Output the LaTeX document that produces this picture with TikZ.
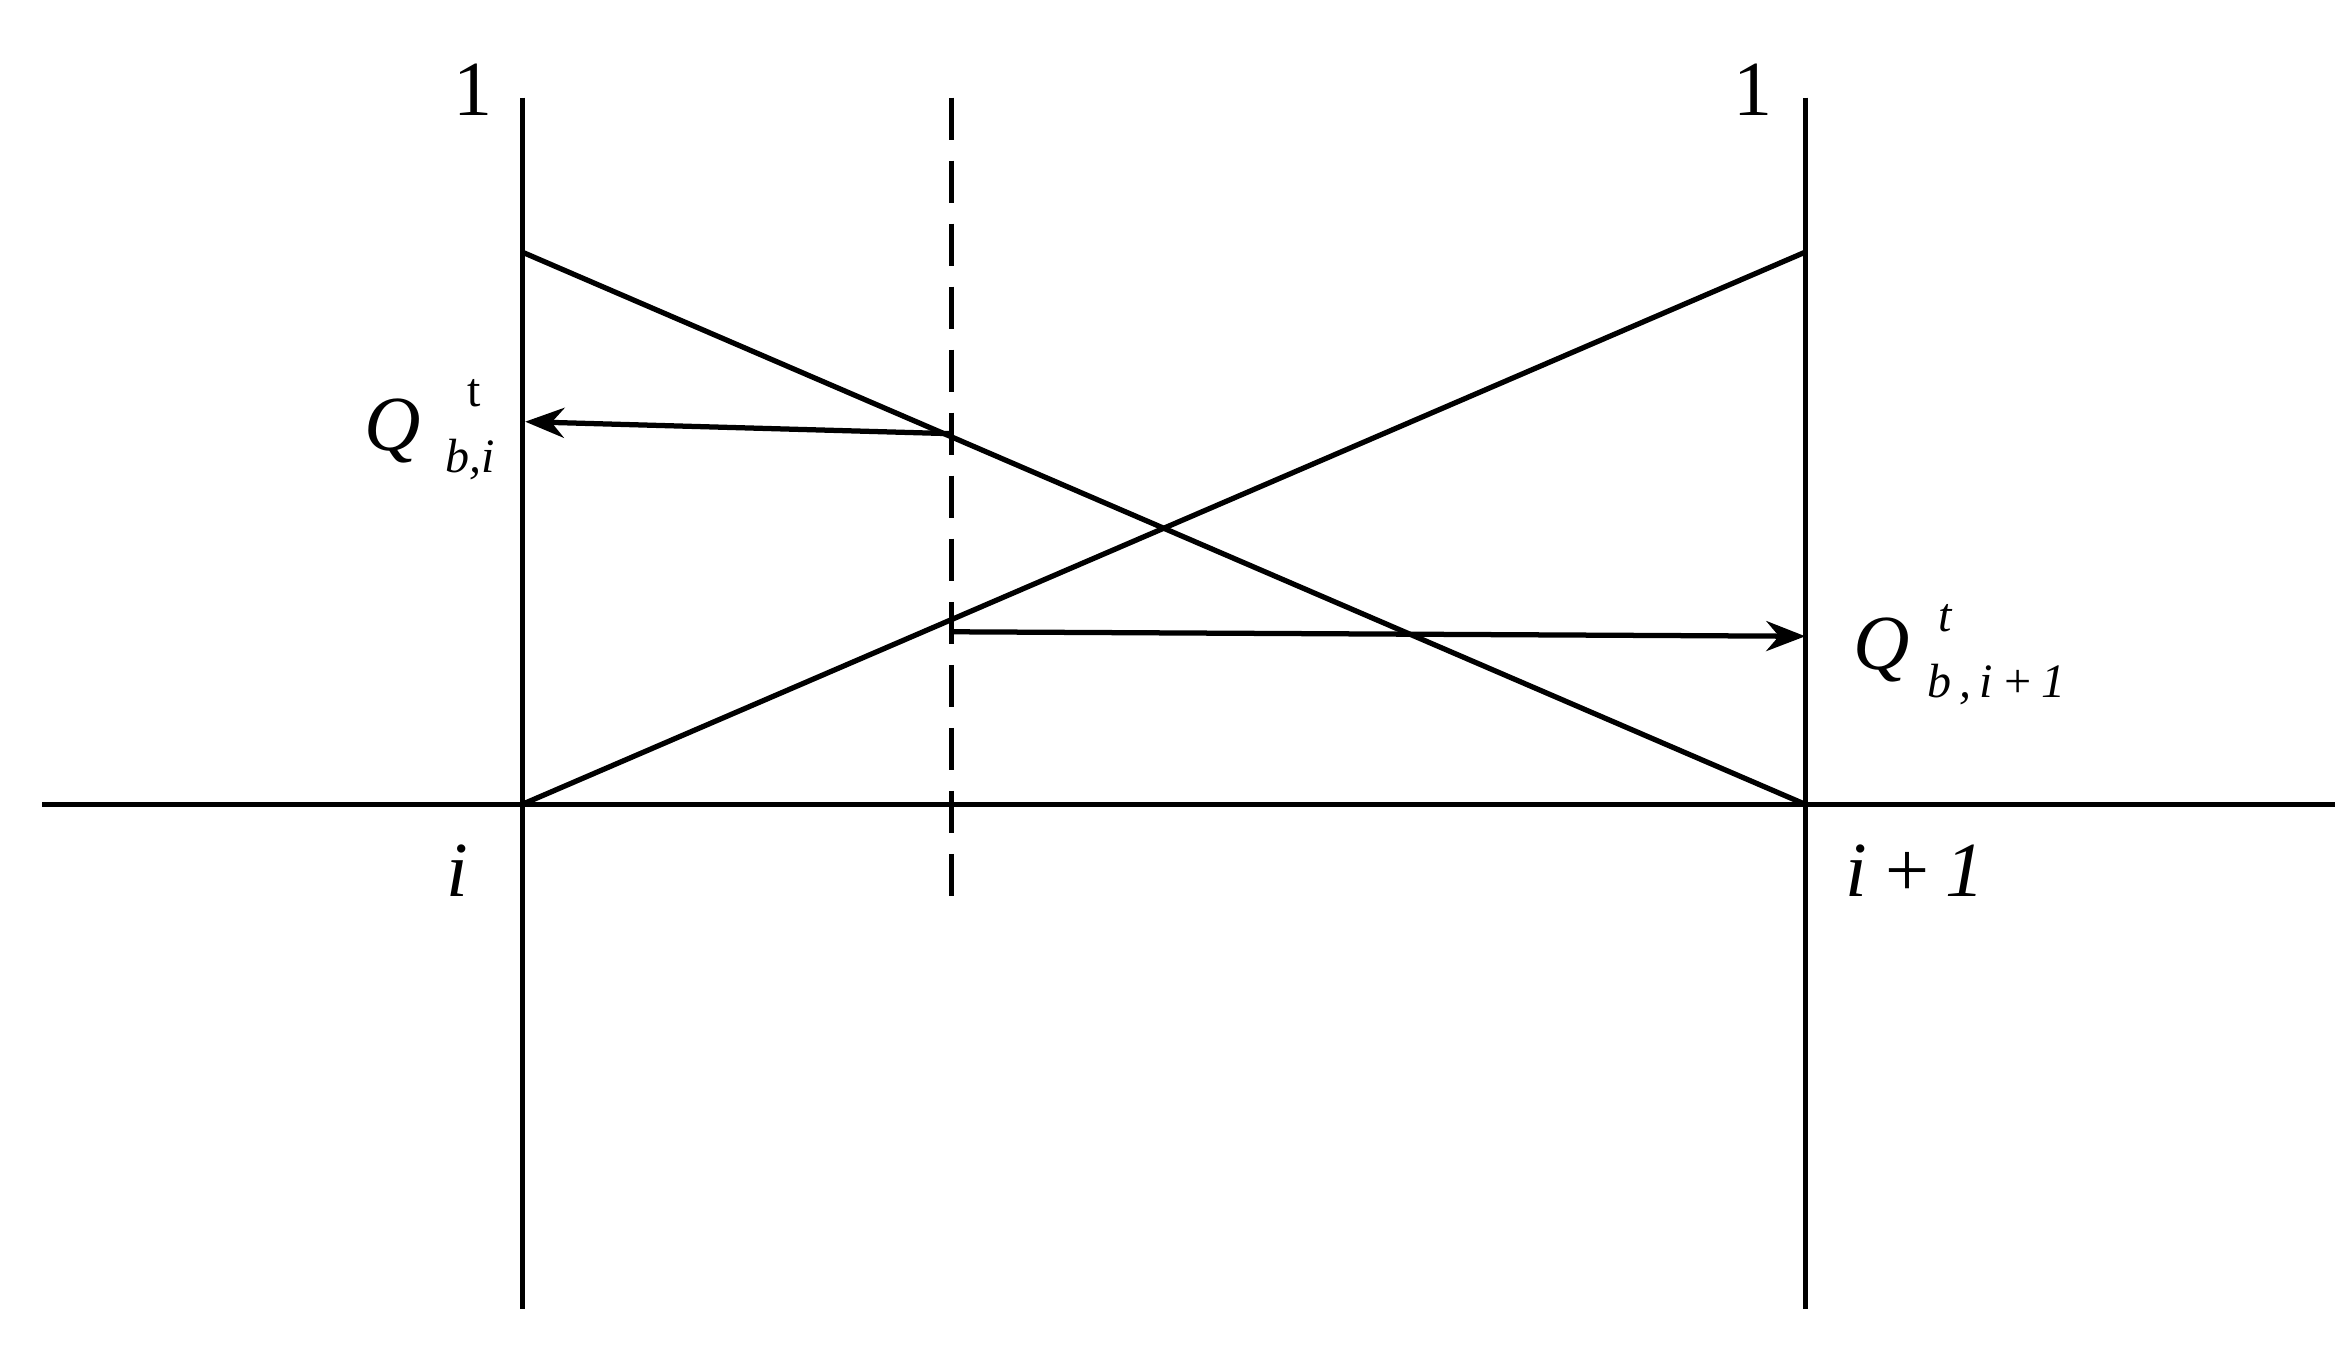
\documentclass[tikz,border=0pt]{standalone}
\usepackage{fontspec}
\setmainfont{Liberation Serif}
\usetikzlibrary{arrows.meta}
\begin{document}
\begin{tikzpicture}[x=1pt,y=-1pt,line width=3.5pt,
  lbl/.style={font=\fontsize{52}{60}\selectfont,inner sep=0},
  sub/.style={font=\fontsize{32}{38}\selectfont,inner sep=0},
  arr/.style={-{Stealth[length=26pt,width=20pt]}}]
\useasboundingbox (0,0) rectangle (1556,897);
\coordinate (L0) at (348,65); \coordinate (L1) at (348,872);
\coordinate (R0) at (1203,65); \coordinate (R1) at (1203,872);
\coordinate (A0) at (28,536); \coordinate (A1) at (1556,536);
\coordinate (D0) at (634,65); \coordinate (D1) at (634,605);
\coordinate (LT) at (348,168); \coordinate (RB) at (1203,536);
\coordinate (LB) at (348,536); \coordinate (RT) at (1203,168);
\coordinate (P1) at (634,289); \coordinate (Q1) at (350,281);
\coordinate (P2) at (634,421); \coordinate (Q2) at (1203,424);
\draw (L0)--(L1); \draw (R0)--(R1); \draw (A0)--(A1);
\draw[dash pattern=on 28pt off 14pt] (D0)--(D1);
\draw (LT)--(RB); \draw (LB)--(RT);
\draw[arr] (P1)--(Q1); \draw[arr] (P2)--(Q2);
\node[lbl] (one1) at (315,60) {1};
\node[lbl] (one2) at (1168,60) {1};
\node[lbl] (ii) at (305,580) {\itshape i};
\node[lbl,anchor=west] (ip) at (1228,580) {\itshape i\,+\,1};
\node[lbl] (q1) at (262,287) {\itshape Q};
\node[sub] (q1t) at (316,262) {t};
\node[sub] (q1s) at (313,306) {\itshape b,i};
\node[lbl] (q2) at (1254,433) {\itshape Q};
\node[sub] (q2t) at (1296,412) {\itshape t};
\node[sub,anchor=west] (q2s) at (1283,456) {\itshape b\,,\,i\,+\,1};
\end{tikzpicture}
\end{document}
